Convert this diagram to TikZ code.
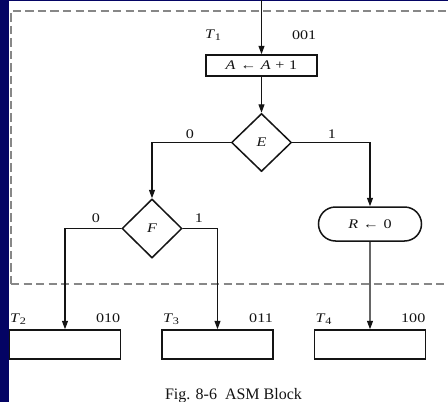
\documentclass[tikz,border=0pt]{standalone}
\usepackage{fontspec}
\setmainfont[FakeStretch=1.22]{Liberation Serif}
\newfontfamily\capfont{Liberation Serif}
\usetikzlibrary{shapes.geometric,shapes.misc,arrows.meta}
\definecolor{navy}{RGB}{4,4,100}
\definecolor{dashgray}{RGB}{135,135,135}
\definecolor{ink}{RGB}{20,20,20}
\newcommand{\Tsub}[1]{\textit{T}\kern-0.3pt\raisebox{-0.4ex}{\fontsize{10}{10}\selectfont #1}}
\newcommand{\gapsp}{\hspace{0.35em}}
\begin{document}
\begin{tikzpicture}[x=1pt,y=-1pt,
  lbl/.style={font=\fontsize{13.2}{14}\selectfont, inner sep=0pt, text=ink},
  box/.style={draw=ink, line width=1.5pt, minimum width=111pt, inner sep=0pt, font=\fontsize{13.2}{14}\selectfont, text=ink},
  dec/.style={draw=ink, diamond, line width=1.5pt, inner sep=0pt, minimum width=60pt, minimum height=58pt, font=\fontsize{13.2}{14}\selectfont\itshape, text=ink},
  arr/.style={draw=ink, line width=1.2pt, -{Triangle[length=8.5pt,width=6pt]}},
  frame/.style={dashgray, line width=2.2pt, dash pattern=on 8.3pt off 4.2pt}]
\useasboundingbox (0,0) rectangle (448,402);
\fill[white] (0,0) rectangle (448,402);
\fill[navy] (0,0) rectangle (8.5,402);
\fill[navy] (0,0) rectangle (448,1.3);
\draw[frame] (11,284) -- (11,11) -- (448,11);
\draw[frame] (11,284) -- (448,284);

% nodes
\coordinate (in) at (261.5,0);
\node[box, minimum height=21pt] (A) at (261.5,65.5) {\textit{A}\gapsp←\gapsp\textit{A}\gapsp+\gapsp1};
\node[dec] (E) at (261.5,142.5) {E};
\node[dec, minimum height=59pt] (F) at (152,228.5) {F};
\node[draw=ink, line width=1.5pt, rounded rectangle, minimum width=103pt, minimum height=34pt, inner sep=0pt, font=\fontsize{13.2}{14}\selectfont, text=ink] (R) at (370,224) {\textit{R}\gapsp←\gapsp0};
\node[box, minimum height=29pt] (b2) at (65,344.5) {};
\node[box, minimum height=29pt] (b3) at (217.5,344.5) {};
\node[box, minimum height=29pt] (b4) at (370,344.5) {};

% labels
\node[lbl, anchor=base west] (t1) at (205,38.5) {\Tsub{1}};
\node[lbl, anchor=base east] (c1) at (316.5,39) {001};
\node[lbl, anchor=base] (e0) at (190,138) {0};
\node[lbl, anchor=base] (e1) at (332,138) {1};
\node[lbl, anchor=base] (f0) at (96,222) {0};
\node[lbl, anchor=base] (f1) at (199,222) {1};
\node[lbl, anchor=base west] (t2) at (10,322) {\Tsub{2}};
\node[lbl, anchor=base east] (c2) at (120.5,322.5) {010};
\node[lbl, anchor=base west] (t3) at (163,322) {\Tsub{3}};
\node[lbl, anchor=base east] (c3) at (273,322.5) {011};
\node[lbl, anchor=base west] (t4) at (315.5,322) {\Tsub{4}};
\node[lbl, anchor=base east] (c4) at (425.5,322.5) {100};
\node[lbl, anchor=base, font=\capfont\fontsize{16}{18}\selectfont] (cap) at (233.5,399) {Fig. 8-6\ \ ASM Block};

% connectors
\draw[arr] (in) -- (A);
\draw[arr] (A) -- (E);
\draw[arr] (E.west) -| (F.north);
\draw[arr] (E.east) -| (R.north);
\draw[arr] (F.west) -| (b2.north);
\draw[arr] (F.east) -| (b3.north);
\draw[arr] (R) -- (b4);
\end{tikzpicture}
\end{document}
